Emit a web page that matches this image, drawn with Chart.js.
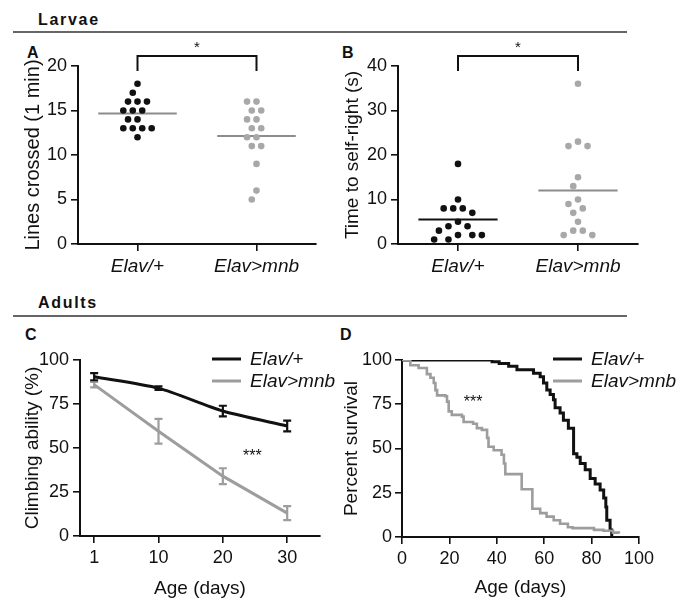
<!DOCTYPE html>
<html>
<head>
<meta charset="utf-8">
<script src="https://cdn.jsdelivr.net/npm/chart.js@4.4.1/dist/chart.umd.min.js"></script>
<style>
  html, body { margin: 0; padding: 0; background: #fff; }
  body { width: 686px; height: 600px; position: relative; overflow: hidden; font-family: 'Liberation Sans', Arial, sans-serif; color: #111; }
  .panel { position: absolute; }
  .panel canvas { display: block; }
  .head { position: absolute; font-weight: bold; font-size: 16px; line-height: 18px; letter-spacing: 1.7px; }
  .rule { position: absolute; left: 13px; width: 614px; height: 1.5px; background: #666; }
  .tag { position: absolute; font-weight: bold; font-size: 16px; line-height: 18px; }
</style>
</head>
<body>
<div class="head" style="left:38px; top:11px;">Larvae</div>
<div class="rule" style="top:31px;"></div>
<div class="head" style="left:38px; top:294px;">Adults</div>
<div class="rule" style="top:315px;"></div>
<div class="tag" style="left:27px; top:44px;">A</div>
<div class="tag" style="left:342px; top:44px;">B</div>
<div class="tag" style="left:25px; top:326px;">C</div>
<div class="tag" style="left:340px; top:326px;">D</div>

<div class="panel" style="left:0; top:30px;"><canvas id="chartA" width="340" height="270"></canvas></div>
<div class="panel" style="left:340px; top:30px;"><canvas id="chartB" width="346" height="270"></canvas></div>
<div class="panel" style="left:0; top:316px;"><canvas id="chartC" width="340" height="284"></canvas></div>
<div class="panel" style="left:340px; top:316px;"><canvas id="chartD" width="346" height="284"></canvas></div>

<script>
// --- data ---
const groups = ['Elav/+', 'Elav>mnb'];

// A: lines crossed in 1 min, one value per larva
const linesCtrl = [18, 17, 16, 16, 16, 15, 15, 15, 14, 14, 13, 13, 13, 13, 12];
const linesMnb = [16, 16, 15, 15, 14, 14, 13, 13, 12, 12, 11, 11, 9, 6, 5];

// B: time to self-right (s)
const rightCtrl = [18, 10, 8, 8, 8, 7, 5, 4, 4, 3, 2, 2, 2, 1, 1];
const rightMnb = [36, 23, 22, 22, 15, 13, 10, 9, 8, 7, 5, 3, 3, 2, 2];

// C: climbing ability (%) with SEM
const ageDays = ['1', '10', '20', '30'];
const climbCtrl = [90.5, 84, 71, 62.5];
const climbCtrlSem = [2, 1, 3, 3];
const climbMnb = [86, 59.5, 34, 13];
const climbMnbSem = [1.5, 7, 4.5, 4];

// D: survival curves (day of step, percent after step)
const survDayCtrl = [0, 38, 41, 45, 48.5, 55.5, 58.3, 59.7, 61.1, 62.5, 63.9, 64.6, 66.7, 68.1, 70.2, 72.4, 73.8, 75.2, 77.3, 79.4, 81.5, 83.6, 85.1, 86, 86.4, 87.8, 88.5];
const survPctCtrl = [100, 99, 98, 96.5, 94.5, 92.5, 90.5, 87, 83, 80.5, 77.5, 73, 70, 66, 61.5, 47, 45, 41.5, 38, 33, 30, 26.5, 22, 17, 9.5, 4, 0];
const survDayMnb = [0, 3.5, 7, 10.5, 12, 13.4, 14.1, 14.8, 18.3, 19, 19.7, 21, 25.3, 26, 30, 31.6, 33.7, 35.9, 36.5, 38.7, 42, 43, 43.6, 50.5, 55, 58.3, 61, 64, 66.7, 70, 72, 81, 85, 89, 91.5];
const survPctMnb = [100, 97, 95.5, 92, 90, 87, 83, 80, 79.5, 76.5, 71, 69, 68, 65, 64, 61.5, 60.5, 56, 51, 49, 46.5, 41.5, 35.5, 27, 16, 13.5, 11.5, 9.5, 7.5, 5.5, 5, 4, 3.5, 2.5, 2];

const FONT = "'Liberation Sans', Arial, sans-serif";
const INK = '#111';
const GREY = '#9d9d9d';
const GREY_DOT = '#a8a8a8';
const GREY_MEAN = '#8c8c8c';

Chart.defaults.font.family = FONT;
Chart.defaults.color = INK;

// simple beeswarm: spread dots sideways so they do not overlap (pixel space)
function swarm(values, group, pxPerY) {
    const pxPerX = 119.5, step = 4.75, minDist = 9.5;
    const placed = [];
    return values.map(v => {
        const py = v * pxPerY;
        let off = 0;
        for (let k = 0; k < 60; k++) {
            off = (k % 2 ? -1 : 1) * Math.ceil(k / 2) * step;
            if (placed.every(p => Math.hypot(p[0] - off, p[1] - py) >= minDist)) break;
        }
        placed.push([off, py]);
        return { x: group + off / pxPerX, y: v };
    });
}

function meanLine(values, group) {
    const m = values.reduce((a, b) => a + b, 0) / values.length;
    return [{ x: group - 0.33, y: m }, { x: group + 0.33, y: m }];
}

// brackets, stars, small line legend and error bars
const notes = {
    id: 'notes',
    afterDatasetsDraw(chart) {
        const ctx = chart.ctx, ys = chart.scales.y;
        const list = chart.data.datasets.map((ds, i) => [ds, i]).reverse();
        list.forEach(([ds, i]) => {
            if (!ds.errors) return;
            const meta = chart.getDatasetMeta(i);
            ctx.save();
            ctx.strokeStyle = ds.borderColor;
            ctx.lineWidth = 2.2;
            meta.data.forEach((pt, j) => {
                const v = ds.data[j].y, e = ds.errors[j];
                const y0 = ys.getPixelForValue(v - e), y1 = ys.getPixelForValue(v + e);
                ctx.beginPath();
                ctx.moveTo(pt.x, y0); ctx.lineTo(pt.x, y1);
                ctx.moveTo(pt.x - 4, y0); ctx.lineTo(pt.x + 4, y0);
                ctx.moveTo(pt.x - 4, y1); ctx.lineTo(pt.x + 4, y1);
                ctx.stroke();
            });
            ctx.restore();
        });
    },
    afterDraw(chart, args, opts) {
        const ctx = chart.ctx, area = chart.chartArea;
        const xs = chart.scales.x, ys = chart.scales.y;
        ctx.save();
        ctx.fillStyle = INK;
        ctx.strokeStyle = INK;
        if (opts.bracket) {
            const x0 = xs.getPixelForValue(0), x1 = xs.getPixelForValue(1);
            const top = area.top - 10, bot = area.top + 5;
            ctx.lineWidth = 2;
            ctx.beginPath();
            ctx.moveTo(x0, bot); ctx.lineTo(x0, top); ctx.lineTo(x1, top); ctx.lineTo(x1, bot);
            ctx.stroke();
            ctx.font = '15px ' + FONT;
            ctx.textAlign = 'center';
            ctx.textBaseline = 'middle';
            ctx.fillText(opts.bracket, (x0 + x1) / 2, top - 8);
        }
        if (opts.stars) {
            ctx.font = '16px ' + FONT;
            ctx.textAlign = 'center';
            ctx.textBaseline = 'middle';
            ctx.fillText(opts.stars.text, xs.getPixelForValue(opts.stars.x), ys.getPixelForValue(opts.stars.y) + 3);
        }
        if (opts.legend) {
            const x = area.left + opts.legend.dx;
            let y = area.top + opts.legend.dy;
            chart.data.datasets.filter(d => d.label).forEach(ds => {
                ctx.strokeStyle = ds.borderColor;
                ctx.lineWidth = 3;
                ctx.beginPath();
                ctx.moveTo(x, y); ctx.lineTo(x + 29, y);
                ctx.stroke();
                ctx.font = 'italic 19px ' + FONT;
                ctx.textAlign = 'left';
                ctx.textBaseline = 'middle';
                ctx.fillText(ds.label, x + 38, y + 1);
                y += opts.legend.gap;
            });
        }
        ctx.restore();
    }
};

function axis(extra) {
    return Object.assign({
        grid: { drawOnChartArea: false, drawTicks: true, tickLength: 7, color: INK, lineWidth: 1.6 },
        border: { display: true, color: INK, width: 2 }
    }, extra);
}

// --- A and B: dot plots ---
function dotChart(id, ctrl, mnb, yMax, yStep, yTitle, box) {
    const pxPerY = 178 / yMax;
    new Chart(document.getElementById(id), {
        type: 'scatter',
        data: {
            datasets: [
                { data: swarm(ctrl, 0, pxPerY), backgroundColor: INK, borderWidth: 0, pointRadius: 3.3, order: 0 },
                { data: swarm(mnb, 1, pxPerY), backgroundColor: GREY_DOT, borderWidth: 0, pointRadius: 3.3, order: 0 },
                { data: meanLine(ctrl, 0), showLine: true, borderColor: box.ctrlMean, borderWidth: 2, pointRadius: 0, order: 1 },
                { data: meanLine(mnb, 1), showLine: true, borderColor: GREY_MEAN, borderWidth: 2, pointRadius: 0, order: 1 }
            ]
        },
        options: {
            responsive: false,
            animation: false,
            layout: { padding: { top: 36, right: box.right, left: 0, bottom: 0 } },
            plugins: { legend: { display: false }, tooltip: { enabled: false }, notes: { bracket: '*' } },
            scales: {
                x: axis({
                    type: 'linear', min: -0.5, max: 1.5,
                    afterBuildTicks: s => { s.ticks = groups.map((g, i) => ({ value: i })); },
                    afterFit: s => { s.height = 56; },
                    ticks: { callback: v => groups[v], color: INK, padding: 4, font: { size: 19, style: 'italic' } }
                }),
                y: axis({
                    min: 0, max: yMax,
                    afterFit: s => { s.width = box.yWidth; },
                    ticks: { stepSize: yStep, color: INK, padding: 4, font: { size: 18 } },
                    title: { display: true, text: yTitle, color: INK, font: { size: box.titleSize }, padding: { top: box.titlePad, bottom: 0 } }
                })
            }
        },
        plugins: [notes]
    });
}

dotChart('chartA', linesCtrl, linesMnb, 20, 5, 'Lines crossed (1 min)',
    { right: 24, yWidth: 78, titleSize: 20, titlePad: 21, ctrlMean: GREY_MEAN });
dotChart('chartB', rightCtrl, rightMnb, 40, 10, 'Time to self-right (s)',
    { right: 48, yWidth: 58, titleSize: 19, titlePad: 1.6, ctrlMean: INK });

// --- C: climbing ability ---
new Chart(document.getElementById('chartC'), {
    type: 'scatter',
    data: {
        datasets: [
            { label: 'Elav/+', data: climbCtrl.map((v, i) => ({ x: i, y: v })), errors: climbCtrlSem,
              showLine: true, borderColor: INK, borderWidth: 3, pointRadius: 0, tension: 0.25, order: 0 },
            { label: 'Elav>mnb', data: climbMnb.map((v, i) => ({ x: i, y: v })), errors: climbMnbSem,
              showLine: true, borderColor: GREY, borderWidth: 3, pointRadius: 0, tension: 0, order: 1 }
        ]
    },
    options: {
        responsive: false,
        animation: false,
        layout: { padding: { top: 44, right: 20, left: 0, bottom: 0 } },
        plugins: {
            legend: { display: false }, tooltip: { enabled: false },
            notes: { stars: { text: '***', x: 2.46, y: 47 }, legend: { dx: 132, dy: -1, gap: 22 } }
        },
        scales: {
            x: axis({
                type: 'linear', min: -0.22, max: 3.51,
                afterBuildTicks: s => { s.ticks = ageDays.map((d, i) => ({ value: i })); },
                afterFit: s => { s.height = 64; },
                ticks: { callback: v => ageDays[v], color: INK, padding: 4, font: { size: 18 } },
                title: { display: true, text: 'Age (days)', color: INK, font: { size: 19 }, padding: { top: 0, bottom: 0 } }
            }),
            y: axis({
                min: 0, max: 100,
                afterFit: s => { s.width = 80; },
                ticks: { stepSize: 25, color: INK, padding: 4, font: { size: 18 } },
                title: { display: true, text: 'Climbing ability (%)', color: INK, font: { size: 19 }, padding: { top: 21, bottom: 0 } }
            })
        }
    },
    plugins: [notes]
});

// --- D: survival ---
new Chart(document.getElementById('chartD'), {
    type: 'scatter',
    data: {
        datasets: [
            { label: 'Elav/+', data: survDayCtrl.map((d, i) => ({ x: d, y: survPctCtrl[i] })),
              showLine: true, stepped: true, borderColor: INK, borderWidth: 3, pointRadius: 0, order: 1 },
            { label: 'Elav>mnb', data: survDayMnb.map((d, i) => ({ x: d, y: survPctMnb[i] })),
              showLine: true, stepped: true, borderColor: GREY, borderWidth: 2.6, pointRadius: 0, order: 0 }
        ]
    },
    options: {
        responsive: false,
        animation: false,
        layout: { padding: { top: 44, right: 47, left: 0, bottom: 0 } },
        plugins: {
            legend: { display: false }, tooltip: { enabled: false },
            notes: { stars: { text: '***', x: 30, y: 77.5 }, legend: { dx: 151, dy: -1, gap: 22 } }
        },
        scales: {
            x: axis({
                type: 'linear', min: 0, max: 100,
                afterFit: s => { s.height = 63; },
                ticks: { stepSize: 20, color: INK, padding: 4, font: { size: 18 } },
                title: { display: true, text: 'Age (days)', color: INK, font: { size: 19 }, padding: { top: 0, bottom: 0.6 } }
            }),
            y: axis({
                min: 0, max: 100,
                afterFit: s => { s.width = 62; },
                ticks: { stepSize: 25, color: INK, padding: 3, font: { size: 18 } },
                title: { display: true, text: 'Percent survival', color: INK, font: { size: 19 }, padding: { top: 0.3, bottom: 0 } }
            })
        }
    },
    plugins: [notes]
});
</script>
</body>
</html>
